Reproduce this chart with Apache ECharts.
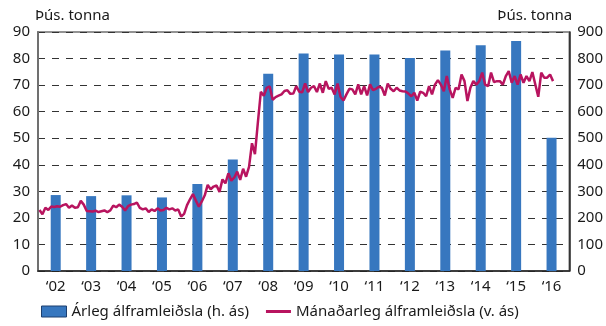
<!DOCTYPE html>
<html>
<head>
<meta charset="utf-8">
<script src="https://cdn.jsdelivr.net/npm/echarts@6/dist/echarts.min.js"></script>
<style>
  html, body { margin: 0; padding: 0; background: #fff; }
  #chart { width: 606px; height: 326px; }
</style>
</head>
<body>
<div id="chart"></div>
<script>
// Year tick labels on the category axis
const yearLabels = ['\u201802', '\u201803', '\u201804', '\u201805', '\u201806', '\u201807', '\u201808',
  '\u201809', '\u201810', '\u201811', '\u201812', '\u201813', '\u201814', '\u201815', '\u201816'];

// Annual aluminium production (thousand tonnes, left axis)
const annualOutput = [28.6, 28.2, 28.5, 27.7, 32.8, 42.0, 74.3, 81.9, 81.5, 81.5, 80.2, 83.0, 85.0, 86.6, 50.2];

// Monthly aluminium production (right axis), Jan 2002 onwards
const monthly2002 = [230, 214, 238, 230, 243, 241, 244, 242, 248, 252, 238, 247];
const monthly2003 = [238, 240, 264, 250, 226, 225, 224, 227, 222, 225, 228, 222];
const monthly2004 = [228, 246, 240, 250, 242, 228, 244, 250, 252, 258, 238, 232];
const monthly2005 = [236, 222, 232, 226, 236, 228, 230, 238, 232, 236, 228, 232];
const monthly2006 = [205, 215, 248, 270, 290, 265, 242, 262, 285, 324, 308, 318];
const monthly2007 = [322, 298, 345, 330, 368, 340, 352, 374, 343, 385, 355, 392];
const monthly2008 = [481, 440, 560, 675, 660, 690, 695, 645, 655, 660, 665, 678];
const monthly2009 = [681, 667, 668, 696, 675, 673, 706, 674, 690, 696, 674, 706];
const monthly2010 = [671, 715, 686, 690, 665, 706, 656, 642, 665, 686, 684, 665];
const monthly2011 = [703, 665, 696, 661, 703, 681, 686, 694, 690, 661, 706, 686];
const monthly2012 = [677, 690, 680, 677, 676, 668, 658, 671, 642, 675, 671, 658];
const monthly2013 = [696, 665, 702, 719, 702, 677, 734, 684, 652, 690, 684, 740];
const monthly2014 = [715, 640, 690, 715, 702, 715, 747, 702, 696, 747, 711, 715];
const monthly2015 = [715, 702, 734, 753, 709, 734, 702, 740, 709, 734, 715, 749];
const monthly2016 = [702, 656, 747, 728, 728, 740, 715];

const monthlyOutput = [].concat(monthly2002, monthly2003, monthly2004, monthly2005, monthly2006,
  monthly2007, monthly2008, monthly2009, monthly2010, monthly2011, monthly2012, monthly2013,
  monthly2014, monthly2015, monthly2016);

// One slot per month across the fifteen years shown
const monthSlots = [];
for (let y = 2002; y <= 2016; y++) {
  for (let m = 1; m <= 12; m++) monthSlots.push(y + '-' + (m < 10 ? '0' + m : m));
}

const FONT = 'Noto Sans';
const TXT = '#1a1a1a';
const BAR_COLOR = '#3777bf';
const LINE_COLOR = '#b8145f';

const chart = echarts.init(document.getElementById('chart'), null, { renderer: 'canvas' });

chart.setOption({
  animation: false,
  textStyle: { fontFamily: FONT },
  grid: {
    left: 38, right: 36, top: 32, bottom: 55,
    show: true, borderColor: '#707070', borderWidth: 1.5, backgroundColor: 'transparent'
  },
  legend: {
    left: 36, bottom: 2,
    itemWidth: 25, itemHeight: 11, itemGap: 17,
    textStyle: { fontFamily: FONT, fontSize: 15, color: TXT },
    data: [
      { name: 'Árleg álframleiðsla (h. ás)', icon: 'rect',
        itemStyle: { color: BAR_COLOR, borderColor: '#1d3f6e', borderWidth: 1 } },
      { name: 'Mánaðarleg álframleiðsla (v. ás)', icon: 'path://M0,0h25v3h-25z',
        itemStyle: { color: LINE_COLOR, borderWidth: 0 } }
    ]
  },
  xAxis: [
    {
      type: 'category', data: yearLabels, boundaryGap: true,
      axisLine: { lineStyle: { color: '#222', width: 1.5 } },
      axisTick: { length: 6, interval: 0, lineStyle: { color: '#222', width: 1.5 } },
      axisLabel: { color: TXT, fontSize: 15, margin: 8, fontFamily: FONT, interval: 0 },
      splitLine: { show: false }
    },
    {
      type: 'category', data: monthSlots, boundaryGap: true, show: false
    }
  ],
  yAxis: [
    {
      type: 'value', min: 0, max: 90, interval: 10, position: 'left',
      name: 'Þús. tonna', nameLocation: 'end', nameGap: 9,
      nameTextStyle: { align: 'left', color: TXT, fontSize: 15, fontFamily: FONT, padding: [0, 0, 0, -3] },
      axisLine: { show: true, lineStyle: { color: '#707070', width: 2 } },
      axisTick: { show: false },
      axisLabel: { color: TXT, fontSize: 15, margin: 8, fontFamily: FONT },
      splitLine: { lineStyle: { type: [7, 7], color: '#333', width: 1 } }
    },
    {
      type: 'value', min: 0, max: 900, interval: 100, position: 'right',
      name: 'Þús. tonna', nameLocation: 'end', nameGap: 9,
      nameTextStyle: { align: 'right', color: TXT, fontSize: 15, fontFamily: FONT, padding: [0, -3, 0, 0] },
      axisLine: { show: true, lineStyle: { color: '#222', width: 1.5 } },
      axisTick: { show: false },
      axisLabel: { color: TXT, fontSize: 15, margin: 8, fontFamily: FONT },
      splitLine: { show: false }
    }
  ],
  series: [
    {
      name: 'Árleg álframleiðsla (h. ás)', type: 'bar',
      xAxisIndex: 0, yAxisIndex: 0,
      data: annualOutput, barWidth: 10,
      itemStyle: { color: BAR_COLOR }
    },
    {
      name: 'Mánaðarleg álframleiðsla (v. ás)', type: 'line',
      xAxisIndex: 1, yAxisIndex: 1,
      data: monthlyOutput, symbol: 'none',
      lineStyle: { color: LINE_COLOR, width: 2.5 },
      itemStyle: { color: LINE_COLOR }
    }
  ]
});
</script>
</body>
</html>
